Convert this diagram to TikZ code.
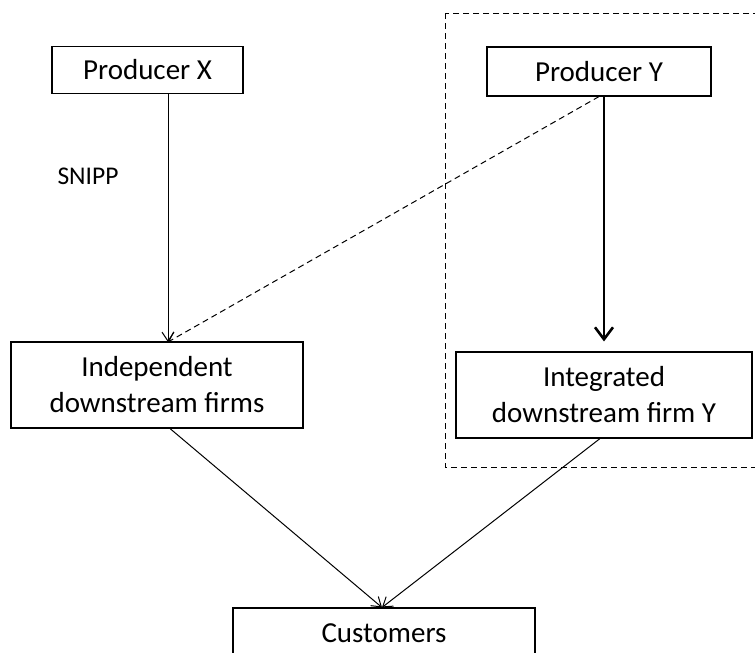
\documentclass[tikz,border=0pt]{standalone}
\usepackage{fontspec}
\setmainfont{Carlito}
\usetikzlibrary{arrows.meta, positioning}

\begin{document}
\begin{tikzpicture}[x=1pt, y=-1pt,
    firm/.style={draw, line width=1.1pt, inner sep=0pt, align=center, font=\fontsize{29}{36}\selectfont},
    link/.style={line width=1pt, -{Straight Barb[length=9pt, width=12pt]}}]
\useasboundingbox (0,0) rectangle (755,653);

% integrated group
\draw[dashed, line width=1pt, dash pattern=on 6pt off 4pt] (445,13) rectangle (758,467);

\node[firm, minimum width=191pt, minimum height=47pt] (prodX) at (147.5,70) {Producer X};
\node[firm, minimum width=224pt, minimum height=49pt] (prodY) at (599,71.5) {Producer Y};
\node[firm, minimum width=292pt, minimum height=86pt] (indep) at (157,385) {Independent\\downstream firms};
\node[firm, minimum width=296pt, minimum height=86pt] (integ) at (604,395) {Integrated\\downstream firm Y};
\node[firm, minimum width=302pt, minimum height=50pt] (cust) at (384,633) {Customers};

\node[font=\fontsize{25.5}{30}\selectfont] (snipp) at (88,176) {SNIPP};

\coordinate (hit) at (168,342);
\draw[link] (prodX.south -| hit) -- (hit);
\draw[link, dashed, dash pattern=on 6pt off 4pt] (prodY.south) -- (hit);
\draw[line width=2.6pt, -{Straight Barb[length=12pt, width=18pt]}] (prodY.south -| integ.north) -- ([yshift=10pt]integ.north);

\draw[link] ([xshift=13pt]indep.south) -- ([xshift=-2pt]cust.north);
\draw[link] ([xshift=-4pt]integ.south) -- ([xshift=-2pt]cust.north);
\end{tikzpicture}
\end{document}
